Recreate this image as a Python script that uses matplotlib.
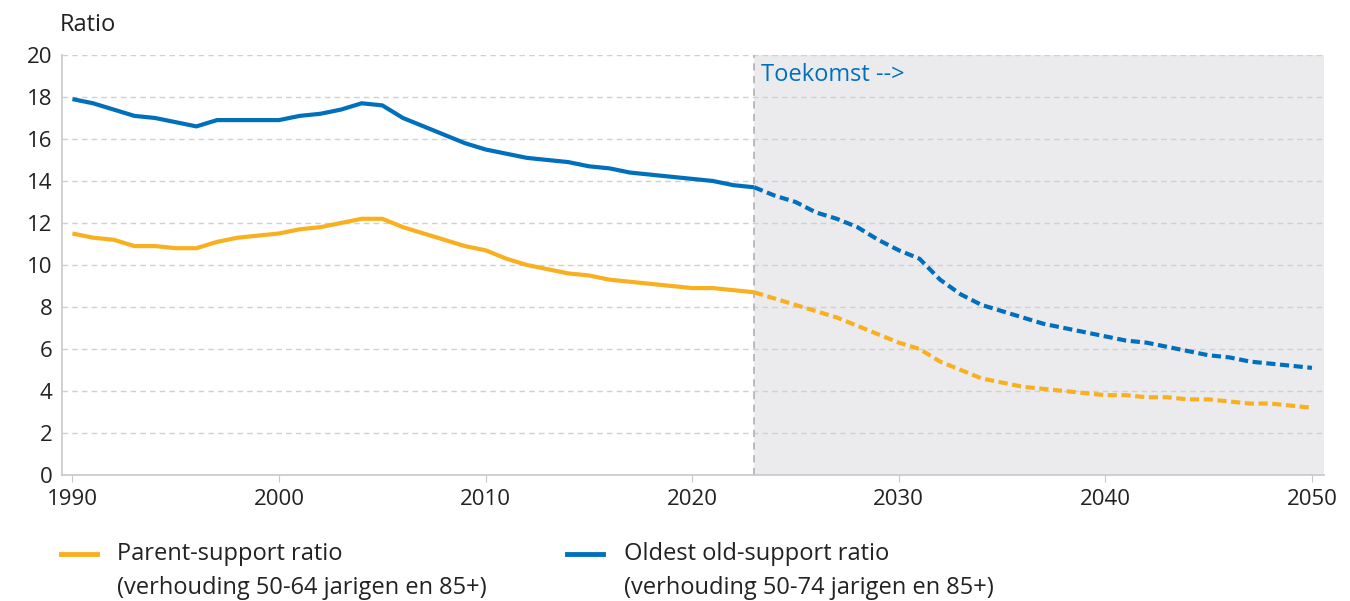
import numpy as np
import matplotlib
matplotlib.use("Agg")
import matplotlib.pyplot as plt
from matplotlib.lines import Line2D

plt.rcParams["font.family"] = ["Open Sans", "DejaVu Sans"]

years = list(range(1990, 2051))
parent_support = [
    11.5, 11.3, 11.2, 10.9, 10.9, 10.8, 10.8, 11.1, 11.3, 11.4,
    11.5, 11.7, 11.8, 12.0, 12.2, 12.2, 11.8, 11.5, 11.2, 10.9,
    10.7, 10.3, 10.0, 9.8, 9.6, 9.5, 9.3, 9.2, 9.1, 9.0,
    8.9, 8.9, 8.8, 8.7, 8.4, 8.1, 7.8, 7.5, 7.1, 6.7,
    6.3, 6.0, 5.4, 5.0, 4.6, 4.4, 4.2, 4.1, 4.0, 3.9,
    3.8, 3.8, 3.7, 3.7, 3.6, 3.6, 3.5, 3.4, 3.4, 3.3,
    3.2,
]
oldest_old_support = [
    17.9, 17.7, 17.4, 17.1, 17.0, 16.8, 16.6, 16.9, 16.9, 16.9,
    16.9, 17.1, 17.2, 17.4, 17.7, 17.6, 17.0, 16.6, 16.2, 15.8,
    15.5, 15.3, 15.1, 15.0, 14.9, 14.7, 14.6, 14.4, 14.3, 14.2,
    14.1, 14.0, 13.8, 13.7, 13.3, 13.0, 12.5, 12.2, 11.8, 11.2,
    10.7, 10.3, 9.3, 8.6, 8.1, 7.8, 7.5, 7.2, 7.0, 6.8,
    6.6, 6.4, 6.3, 6.1, 5.9, 5.7, 5.6, 5.4, 5.3, 5.2,
    5.1,
]
forecast_start = 2023
labels = [
    ("Parent-support ratio", "(verhouding 50-64 jarigen en 85+)"),
    ("Oldest old-support ratio", "(verhouding 50-74 jarigen en 85+)"),
]

ORANGE = "#f9b020"
BLUE = "#0070bd"
GRID = "#d0d0d0"
TXT = "#222222"

years = np.array(years)
cut = years.tolist().index(forecast_start)

fig = plt.figure(figsize=(13.5, 6.01), dpi=100)
ax = fig.add_axes([0.046, 0.2097, 0.935, 0.6988])

ax.axvspan(forecast_start, 2050.6, color="#ebebee", zorder=0, lw=0)
ax.axvline(forecast_start, color="#b5b5b5", ls=(0, (4, 3)), lw=1.3, zorder=1)

for vals, col in [(parent_support, ORANGE), (oldest_old_support, BLUE)]:
    vals = np.array(vals)
    ax.plot(years[:cut + 1], vals[:cut + 1], color=col, lw=3, zorder=3,
            solid_capstyle="butt")
    ax.plot(years[cut:], vals[cut:], color=col, lw=3, ls=(0, (2.2, 1.1)),
            zorder=3, dash_capstyle="butt")

ax.set_xlim(1989.5, 2050.6)
ax.set_ylim(0, 20)
ax.set_yticks(range(0, 21, 2))
ax.set_xticks(range(1990, 2051, 10))
ax.yaxis.grid(True, color=GRID, ls=(0, (4, 3)), lw=1)
ax.set_axisbelow(True)

for s in ["top", "right"]:
    ax.spines[s].set_visible(False)
for s in ["left", "bottom"]:
    ax.spines[s].set_color("#c8c8c8")
    ax.spines[s].set_linewidth(1.2)
ax.tick_params(axis="y", length=0, labelsize=16, colors=TXT, pad=7)
ax.tick_params(axis="x", length=5, color="#c8c8c8", labelsize=16,
               colors=TXT, pad=5)

ax.text(forecast_start + 0.35, 19.05, "Toekomst -->", color=BLUE, fontsize=17,
        va="center", ha="left")
fig.text(0.044, 0.958, "Ratio", fontsize=17, ha="left", va="center", color=TXT)

# legend
for (title, sub), col, x0 in zip(labels, [ORANGE, BLUE], [0.045, 0.42]):
    fig.add_artist(Line2D([x0, x0 + 0.027], [0.079, 0.079], color=col, lw=3.5,
                          transform=fig.transFigure))
    fig.text(x0 + 0.042, 0.079, title, fontsize=17, va="center", color=TXT)
    fig.text(x0 + 0.042, 0.022, sub, fontsize=17, va="center", color=TXT)

fig.savefig("out.png", dpi=100)
